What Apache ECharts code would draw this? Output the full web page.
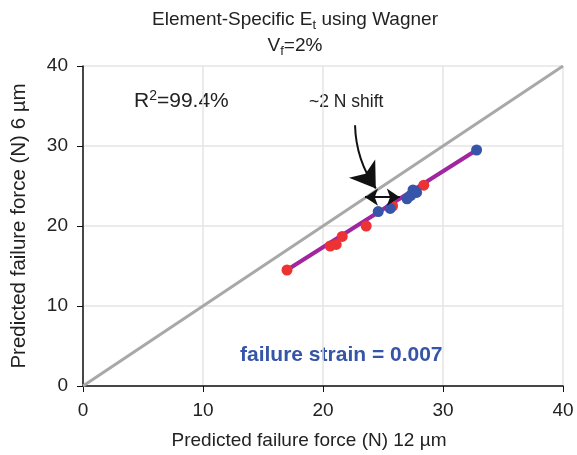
<!DOCTYPE html>
<html>
<head>
<meta charset="utf-8">
<script src="https://cdn.jsdelivr.net/npm/echarts@6/dist/echarts.min.js"></script>
<style>
  html, body { margin: 0; padding: 0; background: #fff; }
  #chart { width: 577px; height: 455px; }
</style>
</head>
<body>
<div id="chart"></div>
<script>
// data (x = 12 µm, y = 6 µm)
const redPoints = [[17.0, 14.5], [20.6, 17.5], [21.1, 17.7], [21.6, 18.7], [23.6, 20.0], [25.8, 22.5], [28.4, 25.1]];
const bluePoints = [[24.6, 21.8], [25.6, 22.2], [27.0, 23.4], [27.3, 23.8], [27.5, 24.5], [27.8, 24.2], [32.8, 29.5]];
const fitLine = [[17.0, 14.5], [32.8, 29.5]];
const identityLine = [[0, 0], [40, 40]];
const axisTicks = [0, 10, 20, 30, 40];
const shiftArrow = [[23.5, 23.6], [26.4, 23.6]];
const curveArrow = [[22.67, 32.6], [24.4, 24.7]];

const chart = echarts.init(document.getElementById('chart'));
const font = 'Liberation Sans, Arial, sans-serif';

chart.setOption({
  animation: false,
  title: {
    text: '{a|Element-Specific E}{s|t}{a| using Wagner}\n{a|V}{s|f}{a|=2%}',
    left: 290, top: 2, textAlign: 'center',
    textStyle: {
      fontFamily: font, fontWeight: 'normal',
      rich: {
        a: { fontSize: 19, color: '#222', fontFamily: font, fontWeight: 'normal', lineHeight: 26 },
        s: { fontSize: 13, color: '#222', fontFamily: font, fontWeight: 'normal', lineHeight: 26, padding: [11, 0, 0, 0] }
      }
    }
  },
  grid: { left: 83, right: 14, top: 66, bottom: 69 },
  xAxis: {
    type: 'value', min: 0, max: 40, interval: 10,
    name: 'Predicted failure force (N) 12 µm',
    nameLocation: 'middle', nameGap: 45,
    nameTextStyle: { fontSize: 19, color: '#222', fontFamily: font, padding: [0, 28, 0, 0] },
    axisLine: { lineStyle: { color: '#111', width: 1.5 } },
    axisTick: { show: true, length: 6, lineStyle: { color: '#111' } },
    axisLabel: { fontSize: 19, color: '#222', fontFamily: font, margin: 15 },
    splitLine: { lineStyle: { color: '#e4e4e4', width: 1.5 } }
  },
  yAxis: {
    type: 'value', min: 0, max: 40, interval: 10,
    name: 'Predicted failure force (N) 6 µm',
    nameLocation: 'middle', nameGap: 53,
    nameTextStyle: { fontSize: 20.5, color: '#222', fontFamily: font },
    axisLine: { show: true, lineStyle: { color: '#111', width: 1.5 } },
    axisTick: { show: true, length: 6, lineStyle: { color: '#111' } },
    axisLabel: { fontSize: 19, color: '#222', fontFamily: font, margin: 15 },
    splitLine: { lineStyle: { color: '#e4e4e4', width: 1.5 } }
  },
  series: [
    {
      type: 'line', data: identityLine, symbol: 'none',
      lineStyle: { color: '#a8a8a8', width: 3 }, z: 2
    },
    {
      type: 'line', data: fitLine, symbol: 'none',
      lineStyle: { color: '#a0259e', width: 4 }, z: 3
    },
    {
      type: 'scatter', data: redPoints, symbolSize: 11,
      itemStyle: { color: '#ec3232', opacity: 1 }, z: 4
    },
    {
      type: 'scatter', data: bluePoints, symbolSize: 11,
      itemStyle: { color: '#3654a8', opacity: 1 }, z: 5
    },
    {
      type: 'lines', coordinateSystem: 'cartesian2d', z: 6,
      symbol: ['arrow', 'arrow'], symbolSize: 13,
      lineStyle: { color: '#111', width: 2, opacity: 1 },
      data: [{ coords: shiftArrow }]
    },
    {
      type: 'lines', coordinateSystem: 'cartesian2d', z: 6,
      symbol: ['none', 'arrow'], symbolSize: 24,
      lineStyle: { color: '#111', width: 2, opacity: 1, curveness: -0.15 },
      data: [{ coords: curveArrow }]
    }
  ],
  graphic: [
    {
      type: 'text', left: 134, top: 89,
      style: {
        text: '{a|R}{p|2}{a|=99.4%}',
        rich: {
          a: { fontSize: 21, fill: '#222', fontFamily: font, lineHeight: 24 },
          p: { fontSize: 14, fill: '#222', fontFamily: font, lineHeight: 24, padding: [0, 0, 11, 0] }
        }
      }
    },
    {
      type: 'text', left: 309, top: 93,
      style: { text: '~2 N shift', fontSize: 17.5, fill: '#222', fontFamily: font }
    },
    {
      type: 'text', left: 240, top: 345,
      style: { text: 'failure strain = 0.007', fontSize: 21, fontWeight: 'bold', fill: '#3654a8', fontFamily: font }
    }
  ]
});
</script>
</body>
</html>
